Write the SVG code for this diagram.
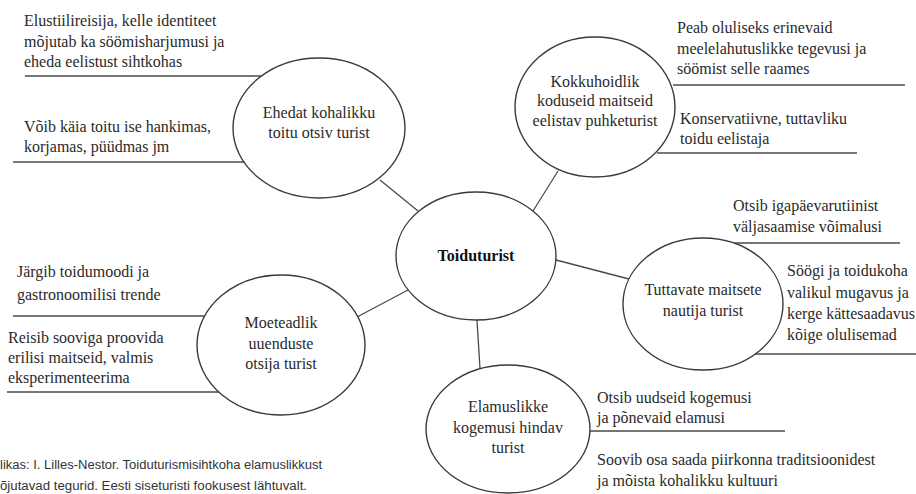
<svg xmlns="http://www.w3.org/2000/svg" width="916" height="494" viewBox="0 0 916 494">
<style>
.n ellipse{fill:#fff;stroke:#3a3a3a;stroke-width:1.4}
.t{font-family:"Liberation Serif","Times New Roman",serif;font-size:16px;fill:#2a2a2a}
.c{text-anchor:middle}
.b{font-weight:bold;fill:#111}
.ln line{stroke:#4a4a4a;stroke-width:1.3}
.src{font-family:"Liberation Sans",Arial,sans-serif;font-size:12.5px;fill:#333}
</style>
<rect width="916" height="494" fill="#fff"/>
<g id="connectors" class="ln">
<line x1="380" y1="180" x2="418" y2="211"/>
<line x1="558" y1="171" x2="533" y2="211"/>
<line x1="357" y1="317" x2="408" y2="290"/>
<line x1="556" y1="260" x2="629" y2="279"/>
<line x1="477" y1="320" x2="480" y2="369"/>
</g>
<g id="separators" class="ln">
<line x1="25" y1="76" x2="261" y2="76"/>
<line x1="13" y1="162" x2="244" y2="162"/>
<line x1="673" y1="85" x2="905" y2="85"/>
<line x1="657" y1="153" x2="857" y2="153"/>
<line x1="13" y1="316" x2="205" y2="316"/>
<line x1="7" y1="392" x2="219" y2="392"/>
<line x1="735" y1="243" x2="900" y2="243"/>
<line x1="755" y1="354" x2="916" y2="354"/>
<line x1="588" y1="431" x2="785" y2="431"/>
</g>
<g id="node-center" class="n">
<ellipse cx="476" cy="256" rx="80" ry="64"/>
<text class="t c b" x="476" y="261">Toiduturist</text>
</g>
<g id="node-ehedat" class="n">
<ellipse cx="319" cy="128" rx="86" ry="70"/>
<text class="t c" x="319" y="118">Ehedat kohalikku</text>
<text class="t c" x="319" y="138">toitu otsiv turist</text>
</g>
<g id="node-kokkuhoidlik" class="n">
<ellipse cx="595" cy="107" rx="80" ry="70"/>
<text class="t c" x="595" y="87">Kokkuhoidlik</text>
<text class="t c" x="595" y="106">koduseid maitseid</text>
<text class="t c" x="595" y="126">eelistav puhketurist</text>
</g>
<g id="node-moeteadlik" class="n">
<ellipse cx="281" cy="345" rx="84" ry="70"/>
<text class="t c" x="281" y="328">Moeteadlik</text>
<text class="t c" x="281" y="349">uuenduste</text>
<text class="t c" x="281" y="369">otsija turist</text>
</g>
<g id="node-tuttavate" class="n">
<ellipse cx="703" cy="304" rx="80" ry="66"/>
<text class="t c" x="703" y="295">Tuttavate maitsete</text>
<text class="t c" x="703" y="316">nautija turist</text>
</g>
<g id="node-elamuslikke" class="n">
<ellipse cx="508" cy="429" rx="82" ry="64"/>
<text class="t c" x="508" y="412">Elamuslikke</text>
<text class="t c" x="508" y="433">kogemusi hindav</text>
<text class="t c" x="508" y="453">turist</text>
</g>
<g id="notes" class="t">
<text x="24" y="26">Elustiilireisija, kelle identiteet</text>
<text x="24" y="47">mõjutab ka söömisharjumusi ja</text>
<text x="24" y="67">eheda eelistust sihtkohas</text>
<text x="24" y="132">Võib käia toitu ise hankimas,</text>
<text x="24" y="152">korjamas, püüdmas jm</text>
<text x="677" y="33">Peab oluliseks erinevaid</text>
<text x="677" y="54">meelelahutuslikke tegevusi ja</text>
<text x="677" y="74">söömist selle raames</text>
<text x="680" y="124">Konservatiivne, tuttavliku</text>
<text x="680" y="144">toidu eelistaja</text>
<text x="17" y="277">Järgib toidumoodi ja</text>
<text x="17" y="300">gastronoomilisi trende</text>
<text x="8" y="343">Reisib sooviga proovida</text>
<text x="8" y="363">erilisi maitseid, valmis</text>
<text x="8" y="383">eksperimenteerima</text>
<text x="733" y="211">Otsib igapäevarutiinist</text>
<text x="733" y="232">väljasaamise võimalusi</text>
<text x="787" y="276">Söögi ja toidukoha</text>
<text x="787" y="298">valikul mugavus ja</text>
<text x="787" y="319">kerge kättesaadavus</text>
<text x="787" y="340">kõige olulisemad</text>
<text x="597" y="403">Otsib uudseid kogemusi</text>
<text x="597" y="423">ja põnevaid elamusi</text>
<text x="597" y="465">Soovib osa saada piirkonna traditsioonidest</text>
<text x="597" y="486">ja mõista kohalikku kultuuri</text>
</g>
<g id="source" class="src">
<text x="0" y="469" textLength="322" lengthAdjust="spacingAndGlyphs">likas: I. Lilles-Nestor. Toiduturismisihtkoha elamuslikkust</text>
<text x="0" y="490" textLength="307" lengthAdjust="spacingAndGlyphs">õjutavad tegurid. Eesti siseturisti fookusest lähtuvalt.</text>
</g>
</svg>
